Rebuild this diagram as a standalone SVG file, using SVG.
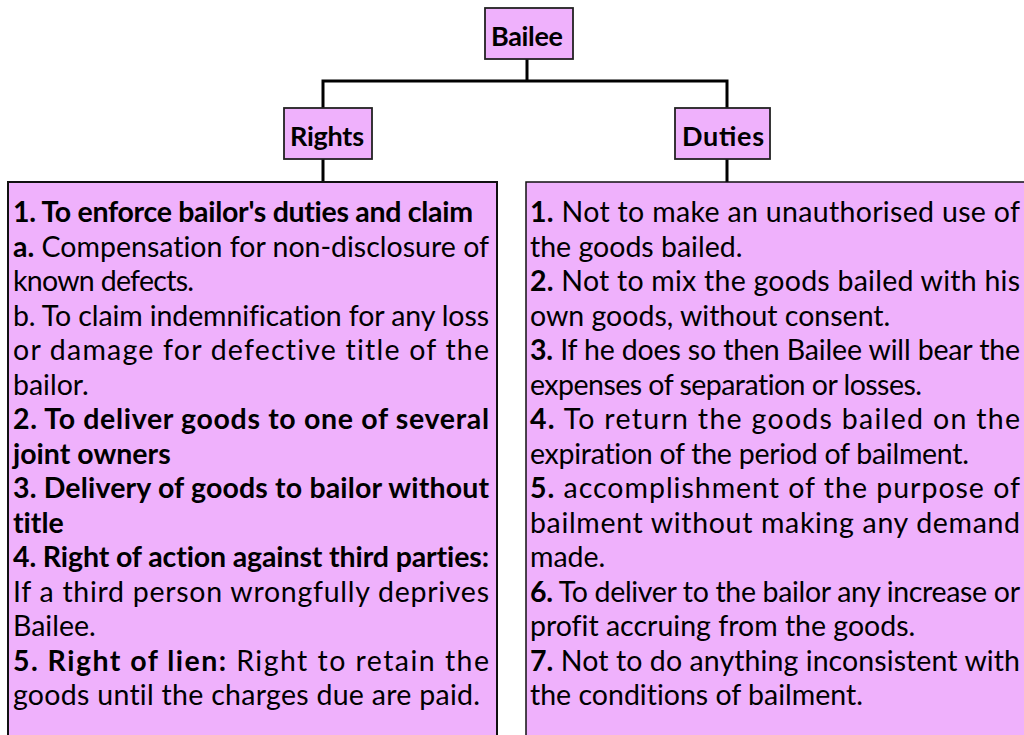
<svg xmlns="http://www.w3.org/2000/svg" width="1024" height="735" viewBox="0 0 1024 735">
<style>
.box{fill:#EFB1FC;stroke:#111;stroke-width:2}
.hd{fill:#EFB1FC;stroke:#222;stroke-width:1.8}
.ht{font-family:Lato,"Liberation Sans",sans-serif;font-weight:bold;font-size:27px;fill:#000}
.t{font-family:Lato,"Liberation Sans",sans-serif;font-size:28.5px;fill:#000;font-variant-ligatures:none;font-feature-settings:"liga" 0,"clig" 0}
.b{font-weight:bold}
.con{stroke:#000;stroke-width:3;fill:none}
</style>
<rect width="1024" height="735" fill="#fff"/>
<g id="connectors">
<path class="con" d="M527 59V81M323 81H727M323 79.5V108M727 79.5V108M323 159V182M727 159V182"/>
</g>
<g id="bailee">
<rect class="hd" x="485" y="8" width="88" height="51"/>
<text class="ht" x="491" y="46" textLength="72" lengthAdjust="spacing">Bailee</text>
</g>
<g id="rights">
<rect class="hd" x="284" y="108" width="88" height="51"/>
<text class="ht" x="290" y="146" textLength="74" lengthAdjust="spacing">Rights</text>
</g>
<g id="duties">
<rect class="hd" x="675" y="108" width="95" height="51"/>
<text class="ht" x="682" y="146" textLength="82" lengthAdjust="spacing">Duties</text>
</g>
<g id="rights-list">
<rect class="box" x="8" y="182" width="489" height="570"/>
<text class="t b" x="13" y="222" textLength="460" lengthAdjust="spacing">1. To enforce bailor's duties and claim</text>
<text class="t" x="13" y="256.5" textLength="476" lengthAdjust="spacing"><tspan class="b">a.</tspan> Compensation for non-disclosure of</text>
<text class="t" x="13" y="291" textLength="181" lengthAdjust="spacing">known defects.</text>
<text class="t" x="13" y="325.5" textLength="476" lengthAdjust="spacing">b. To claim indemnification for any loss</text>
<text class="t" x="13" y="360" textLength="476" lengthAdjust="spacing">or damage for defective title of the</text>
<text class="t" x="13" y="394.5">bailor.</text>
<text class="t b" x="13" y="429" textLength="476" lengthAdjust="spacing">2. To deliver goods to one of several</text>
<text class="t b" x="13" y="463.5">joint owners</text>
<text class="t b" x="13" y="498" textLength="476" lengthAdjust="spacing">3. Delivery of goods to bailor without</text>
<text class="t b" x="13" y="532.5">title</text>
<text class="t b" x="13" y="567" textLength="476" lengthAdjust="spacing">4. Right of action against third parties:</text>
<text class="t" x="13" y="601.5" textLength="476" lengthAdjust="spacing">If a third person wrongfully deprives</text>
<text class="t" x="13" y="636">Bailee.</text>
<text class="t" x="13" y="670.5" textLength="476" lengthAdjust="spacing"><tspan class="b">5. Right of lien:</tspan> Right to retain the</text>
<text class="t" x="13" y="705" textLength="467" lengthAdjust="spacing">goods until the charges due are paid.</text>
</g>
<g id="duties-list">
<rect class="box" x="526" y="182" width="520" height="570" style="stroke-width:1.5"/>
<text class="t" x="530" y="222" textLength="490" lengthAdjust="spacing"><tspan class="b">1.</tspan> Not to make an unauthorised use of</text>
<text class="t" x="530" y="256.5">the goods bailed.</text>
<text class="t" x="530" y="291" textLength="490" lengthAdjust="spacing"><tspan class="b">2.</tspan> Not to mix the goods bailed with his</text>
<text class="t" x="530" y="325.5">own goods, without consent.</text>
<text class="t" x="530" y="360" textLength="490" lengthAdjust="spacing"><tspan class="b">3.</tspan> If he does so then Bailee will bear the</text>
<text class="t" x="530" y="394.5" textLength="392" lengthAdjust="spacing">expenses of separation or losses.</text>
<text class="t" x="530" y="429" textLength="490" lengthAdjust="spacing"><tspan class="b">4.</tspan> To return the goods bailed on the</text>
<text class="t" x="530" y="463.5" textLength="439" lengthAdjust="spacing">expiration of the period of bailment.</text>
<text class="t" x="530" y="498" textLength="490" lengthAdjust="spacing"><tspan class="b">5.</tspan> accomplishment of the purpose of</text>
<text class="t" x="530" y="532.5" textLength="490" lengthAdjust="spacing">bailment without making any demand</text>
<text class="t" x="530" y="567">made.</text>
<text class="t" x="530" y="601.5" textLength="490" lengthAdjust="spacing"><tspan class="b">6.</tspan> To deliver to the bailor any increase or</text>
<text class="t" x="530" y="636">profit accruing from the goods.</text>
<text class="t" x="530" y="670.5" textLength="490" lengthAdjust="spacing"><tspan class="b">7.</tspan> Not to do anything inconsistent with</text>
<text class="t" x="530" y="705">the conditions of bailment.</text>
</g>
</svg>
